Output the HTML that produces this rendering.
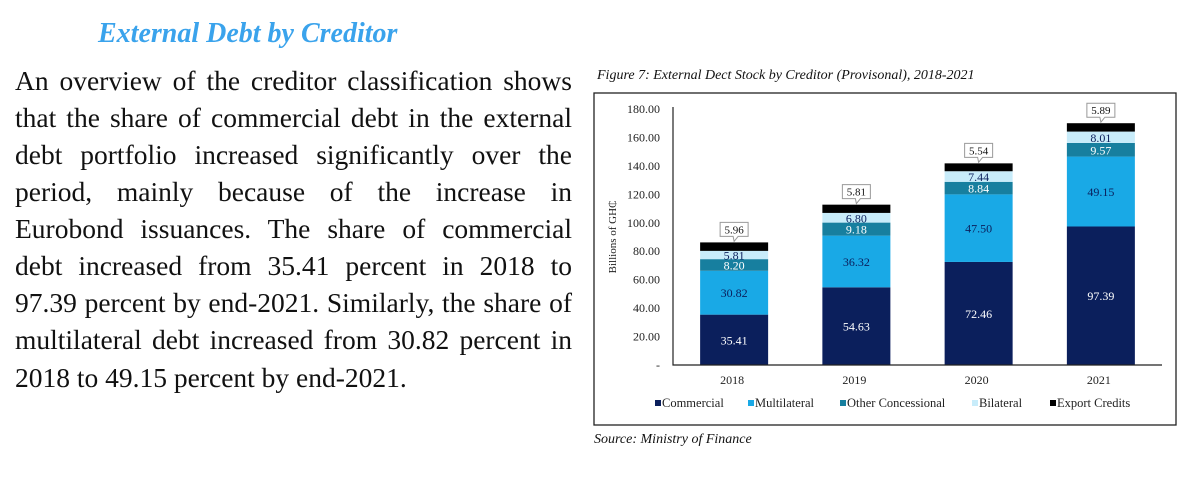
<!DOCTYPE html>
<html><head><meta charset="utf-8">
<style>
html,body{margin:0;padding:0;background:#fff;}
body{width:1200px;height:481px;position:relative;overflow:hidden;font-family:"Liberation Serif",serif;}
.ln{position:absolute;left:15px;width:557px;font-size:27.5px;line-height:30px;color:#111;text-align:justify;text-align-last:justify;white-space:nowrap;}
.ln.last{text-align-last:left;}
</style></head>
<body>
<div style="position:absolute;left:98px;top:18px;font-size:28px;line-height:32px;font-weight:bold;font-style:italic;color:#3aa3ec;">External Debt by Creditor</div>
<div>
<div class="ln" style="top:66px">An overview of the creditor classification shows</div>
<div class="ln" style="top:103px">that the share of commercial debt in the external</div>
<div class="ln" style="top:140px">debt portfolio increased significantly over the</div>
<div class="ln" style="top:177px">period, mainly because of the increase in</div>
<div class="ln" style="top:214px">Eurobond issuances. The share of commercial</div>
<div class="ln" style="top:251px">debt increased from 35.41 percent in 2018 to</div>
<div class="ln" style="top:288px">97.39 percent by end-2021. Similarly, the share of</div>
<div class="ln" style="top:325px">multilateral debt increased from 30.82 percent in</div>
<div class="ln last" style="top:363px">2018 to 49.15 percent by end-2021.</div>
</div>
<svg id="chart" width="1200" height="481" style="position:absolute;left:0;top:0" font-family="Liberation Serif, serif">
<text x="597" y="79" font-size="14" font-style="italic" fill="#111">Figure 7: External Dect Stock by Creditor (Provisonal), 2018-2021</text>
<rect x="594" y="93" width="582" height="332" fill="none" stroke="#222" stroke-width="1.3"/>
<text x="594" y="443" font-size="14" font-style="italic" fill="#111">Source: Ministry of Finance</text>
<text transform="translate(616,237) rotate(-90)" font-size="11" text-anchor="middle" fill="#222">Billions of GH₵</text>
<g id="plot"></g>
</svg>
<script>
const categories=["2018","2019","2020","2021"];
const seriesNames=["Commercial","Multilateral","Other Concessional","Bilateral","Export Credits"];
const commercial=[35.41,54.63,72.46,97.39];
const multilateral=[30.82,36.32,47.50,49.15];
const otherConcessional=[8.20,9.18,8.84,9.57];
const bilateral=[5.81,6.80,7.44,8.01];
const exportCredits=[5.96,5.81,5.54,5.89];
const yTicks=[0,20,40,60,80,100,120,140,160,180];
const colors=["#0b1f5c","#19a9e6","#177f9f","#c8ecfa","#000000"];
const textColors=["#fff","#0b1f5c","#fff","#0b1f5c",null];
const NS="http://www.w3.org/2000/svg";
const g=document.getElementById('plot');
const x0=673,x1=1162,yBase=365,yTop=109,yMax=180;
const y=v=>yBase-(v/yMax)*(yBase-yTop);
const band=(x1-x0)/categories.length;
const xc=i=>x0+band*(i+0.5);
const bw=68;
function el(tag,attrs){const e=document.createElementNS(NS,tag);for(const k in attrs)e.setAttribute(k,attrs[k]);g.appendChild(e);return e;}
yTicks.forEach(t=>{
 const e=el('text',{x:660,y:y(t)+4,'font-size':12,'text-anchor':'end',fill:'#222'});
 
 
 e.textContent=t===0?'-':t.toFixed(2);
});
const series=[commercial,multilateral,otherConcessional,bilateral,exportCredits];
categories.forEach((c,i)=>{
 let cum=0;
 series.forEach((s,k)=>{
  const v=s[i];const top=y(cum+v),bot=y(cum);
  const r=el('rect',{x:xc(i)-bw/2,y:top,width:bw,height:bot-top,fill:colors[k]});
  
  
  if(textColors[k]){
   const t=el('text',{x:xc(i),y:(top+bot)/2+4.5,'font-size':12,'text-anchor':'middle',fill:textColors[k]});
   
   
   t.textContent=v.toFixed(2);
  }
  cum+=v;
 });
 const topY=y(cum);
 const bx=xc(i)-14,by=topY-20;
 const p=el('path',{d:`M${bx} ${by} h28 v14 h-10 l-4 5 l-1 -5 h-13 z`,fill:'#fff',stroke:'#999','stroke-width':1});
 
 
 const ct=el('text',{x:xc(i),y:by+11,'font-size':11,'text-anchor':'middle',fill:'#111'});
 
 
 ct.textContent=exportCredits[i].toFixed(2);
 const xl=el('text',{x:xc(i)-2,y:384,'font-size':12,'text-anchor':'middle',fill:'#222'});
 
 
 xl.textContent=c;
});
const ax=el('path',{d:`M${x0} ${yTop-2} V${yBase} H${x1}`,fill:'none',stroke:'#222','stroke-width':1.2});


const legX=[655,748,840,972,1050];
seriesNames.forEach((n,k)=>{
 const r=el('rect',{x:legX[k],y:400,width:6,height:6,fill:colors[k]});
 
 
 const t=el('text',{x:legX[k]+7,y:407,'font-size':12.5,fill:'#222'});
 
 
 t.textContent=n;
});
</script>
</body></html>
